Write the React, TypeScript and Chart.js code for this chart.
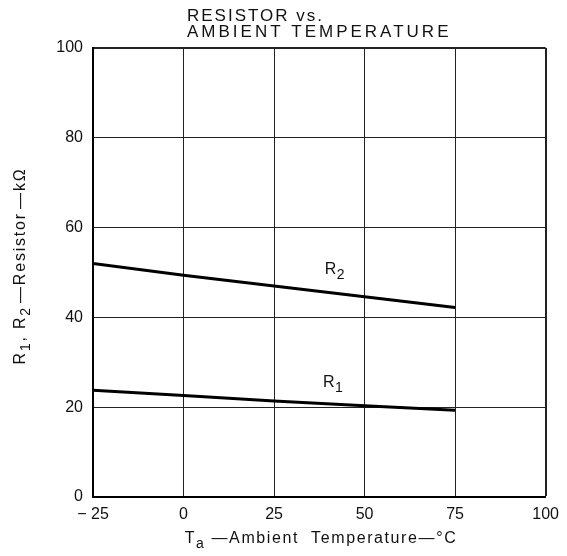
import React, { useEffect, useRef } from "react";
import { Chart, registerables } from "chart.js";

Chart.register(...registerables);

const temperatures = [-25, 0, 25, 50, 75];
const r2Values = [52, 49.4, 47, 44.6, 42.2];
const r1Values = [23.8, 22.6, 21.4, 20.3, 19.3];
const xTickValues = [-25, 0, 25, 50, 75, 100];
const xTickLabels = ["− 25", "0", "25", "50", "75", "100"];
const yTickValues = [0, 20, 40, 60, 80, 100];
const titleLines = ["RESISTOR vs.", "AMBIENT TEMPERATURE"];
const curveLabels = [
  { main: "R", sub: "2", x: 39, y: 49.6 },
  { main: "R", sub: "1", x: 38.5, y: 24.4 },
];

const FONT = '"Liberation Sans", Arial, sans-serif';

type Seg = { t: string; sub?: boolean };

function drawSegs(ctx: CanvasRenderingContext2D, segs: Seg[], x: number, y: number, size: number, align: "center" | "left") {
  const subSize = Math.round(size * 0.85);
  let total = 0;
  const widths = segs.map((s) => {
    ctx.font = `${s.sub ? subSize : size}px ${FONT}`;
    const w = ctx.measureText(s.t).width;
    total += w;
    return w;
  });
  let cx = align === "center" ? x - total / 2 : x;
  ctx.textAlign = "left";
  ctx.textBaseline = "alphabetic";
  segs.forEach((s, i) => {
    ctx.font = `${s.sub ? subSize : size}px ${FONT}`;
    ctx.fillText(s.t, cx, s.sub ? y + size * 0.3 : y);
    cx += widths[i];
  });
}

const annotations = {
  id: "annotations",
  afterDraw(chart: any) {
    const ctx: CanvasRenderingContext2D = chart.ctx;
    const xs = chart.scales.x;
    const ys = chart.scales.y;
    ctx.save();
    ctx.fillStyle = "#111";
    // title
    ctx.font = `17px ${FONT}`;
    ctx.textAlign = "left";
    ctx.textBaseline = "alphabetic";
    (ctx as any).letterSpacing = "2px";
    ctx.fillText(titleLines[0], 187, 21);
    (ctx as any).letterSpacing = "3px";
    ctx.fillText(titleLines[1], 187, 37);
    (ctx as any).letterSpacing = "0.5px";
    // curve labels
    curveLabels.forEach((l) => {
      drawSegs(ctx, [{ t: l.main }, { t: l.sub, sub: true }], xs.getPixelForValue(l.x), ys.getPixelForValue(l.y), 16, "left");
    });
    // x axis title
    (ctx as any).letterSpacing = "1.6px";
    drawSegs(
      ctx,
      [{ t: "T" }, { t: "a", sub: true }, { t: " —Ambient  Temperature—°C" }],
      321,
      543,
      16,
      "center"
    );
    // y axis title
    ctx.translate(25, 266);
    ctx.rotate(-Math.PI / 2);
    (ctx as any).letterSpacing = "1.8px";
    drawSegs(
      ctx,
      [{ t: "R" }, { t: "1", sub: true }, { t: ", R" }, { t: "2", sub: true }, { t: "\u200A—Resistor\u200A—kΩ" }],
      0,
      0,
      16,
      "center"
    );
    ctx.restore();
  },
};

export default function App() {
  const ref = useRef<HTMLCanvasElement>(null);
  useEffect(() => {
    if (!ref.current) return;
    const chart = new Chart(ref.current, {
      type: "line",
      data: {
        datasets: [
          {
            label: "R2",
            data: temperatures.map((t, i) => ({ x: t, y: r2Values[i] })),
            borderColor: "#000",
            borderWidth: 3,
            pointRadius: 0,
            tension: 0,
          },
          {
            label: "R1",
            data: temperatures.map((t, i) => ({ x: t, y: r1Values[i] })),
            borderColor: "#000",
            borderWidth: 3,
            pointRadius: 0,
            tension: 0,
          },
        ],
      },
      options: {
        animation: false,
        responsive: false,
        layout: { padding: { left: 0, right: 21, top: 48, bottom: 0 } },
        plugins: { legend: { display: false }, tooltip: { enabled: false }, title: { display: false } },
        scales: {
          x: {
            type: "linear",
            min: -25,
            max: 100,
            afterBuildTicks: (s: any) => {
              s.ticks = xTickValues.map((v) => ({ value: v }));
            },
            afterFit: (s: any) => {
              s.height = 59;
            },
            ticks: {
              color: "#111",
              font: { family: FONT, size: 16 },
              padding: 8,
              maxRotation: 0,
              callback: (v: any) => xTickLabels[xTickValues.indexOf(Number(v))] ?? "",
            },
            grid: {
              color: "#222",
              lineWidth: (c: any) => (c.tick && c.tick.value === 100 ? 2 : 1),
              drawTicks: false,
            },
            border: { display: true, color: "#000", width: 2 },
          },
          y: {
            type: "linear",
            min: 0,
            max: 100,
            afterBuildTicks: (s: any) => {
              s.ticks = yTickValues.map((v) => ({ value: v }));
            },
            afterFit: (s: any) => {
              s.width = 93;
            },
            ticks: {
              color: "#111",
              font: { family: FONT, size: 16 },
              padding: 10,
            },
            grid: {
              color: "#222",
              lineWidth: (c: any) => (c.tick && c.tick.value === 100 ? 2 : 1),
              drawTicks: false,
            },
            border: { display: true, color: "#000", width: 2 },
          },
        },
      },
      plugins: [annotations],
    });
    return () => chart.destroy();
  }, []);
  return (
    <div style={{ position: "fixed", left: 0, top: 0, width: 567, height: 556, background: "#fff" }}>
      <canvas ref={ref} width={567} height={556} />
    </div>
  );
}
